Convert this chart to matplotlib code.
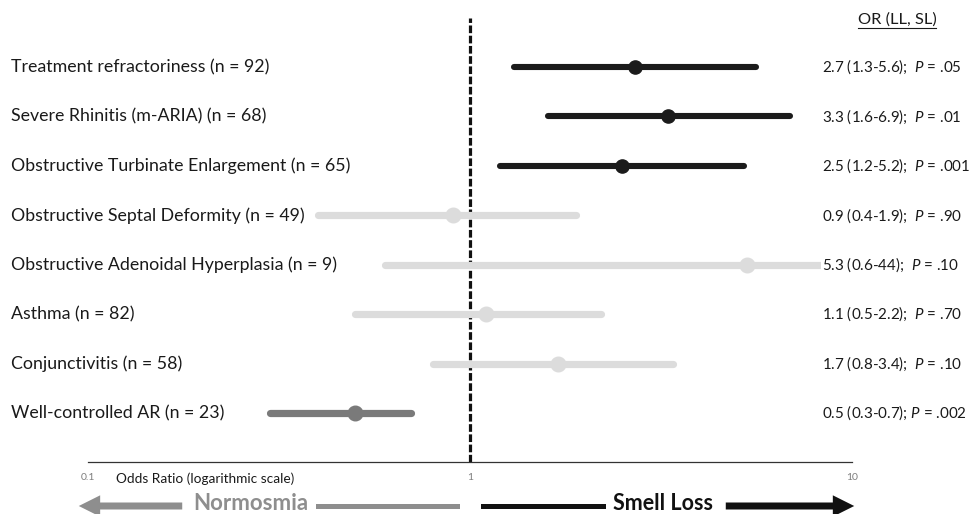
import matplotlib.pyplot as plt
import matplotlib.transforms as mtransforms
from matplotlib.lines import Line2D
from matplotlib.patches import FancyArrowPatch

plt.rcParams['font.family'] = ['Lato', 'DejaVu Sans']
plt.rcParams['mathtext.fontset'] = 'custom'
plt.rcParams['mathtext.it'] = 'Lato:italic'
plt.rcParams['mathtext.rm'] = 'Lato'

factors = ['Treatment refractoriness (n = 92)',
           'Severe Rhinitis (m-ARIA) (n = 68)',
           'Obstructive Turbinate Enlargement (n = 65)',
           'Obstructive Septal Deformity (n = 49)',
           'Obstructive Adenoidal Hyperplasia (n = 9)',
           'Asthma (n = 82)',
           'Conjunctivitis (n = 58)',
           'Well-controlled AR (n = 23)']
odds = [2.7, 3.3, 2.5, 0.9, 5.3, 1.1, 1.7, 0.5]
lower = [1.3, 1.6, 1.2, 0.4, 0.6, 0.5, 0.8, 0.3]
upper = [5.6, 6.9, 5.2, 1.9, 44, 2.2, 3.4, 0.7]
p_values = ['.05', '.01', '.001', '.90', '.10', '.70', '.10', '.002']
groups = ['risk', 'risk', 'risk', 'ns', 'ns', 'ns', 'ns', 'protective']

colors = {'risk': '#1b1b1b', 'ns': '#dcdcdc', 'protective': '#7a7a7a'}
line_w = {'risk': 4.4, 'ns': 5.2, 'protective': 5.2}
dot_ms = {'risk': 9.5, 'ns': 10.5, 'protective': 10.5}

W, H = 977, 514
fig = plt.figure(figsize=(W / 100, H / 100), dpi=100)
ax = fig.add_axes([88 / W, 52 / H, (852 - 88) / W, (496 - 52) / H])
ax.set_xscale('log')
ax.set_xlim(0.1, 10)
ax.set_ylim(7.99, -0.99)

for s in ['top', 'right', 'left']:
    ax.spines[s].set_visible(False)
ax.spines['bottom'].set_color('#333333')
ax.spines['bottom'].set_linewidth(0.9)
ax.set_yticks([])
ax.set_xticks([0.1, 1, 10], ['0.1', '1', '10'])
ax.xaxis.set_minor_locator(plt.NullLocator())
ax.tick_params(axis='x', length=0, pad=8, labelsize=7.5, labelcolor='#7d7d7d')

ax.axvline(1, color='#111111', lw=2.3, linestyle=(0, (2.4, 0.8)), zorder=1)

for i in range(len(factors)):
    g = groups[i]
    ax.plot([lower[i], upper[i]], [i, i], color=colors[g], lw=line_w[g],
            solid_capstyle='round', zorder=2)
    ax.plot(odds[i], i, 'o', ms=dot_ms[g], color=colors[g], zorder=3)

# row labels on the left and OR summaries on the right
row_tf = mtransforms.blended_transform_factory(fig.transFigure, ax.transData)
for i, name in enumerate(factors):
    ax.text(11 / W, i, name, transform=row_tf, ha='left', va='center',
            fontsize=12.8, color='#1a1a1a')
    sep = ' ' if p_values[i] == '.002' else '  '
    stat = f'{odds[i]} ({lower[i]}-{upper[i]});{sep}$\\it{{P}}$ = {p_values[i]}'
    ax.text(822 / W, i, stat, transform=row_tf, ha='left', va='center',
            fontsize=10.9, color='#1a1a1a', zorder=5,
            bbox=dict(facecolor='white', edgecolor='none', pad=1))

head = fig.text(897 / W, 1 - 20 / H, 'OR (LL, SL)', ha='center', va='center',
                fontsize=11.8, color='#1a1a1a')
fig.text(116 / W, 1 - 479 / H, 'Odds Ratio (logarithmic scale)', ha='left',
         va='center', fontsize=9.8, color='#1a1a1a')

# underline the header
fig.canvas.draw()
bb = head.get_window_extent().transformed(fig.transFigure.inverted())
fig.add_artist(Line2D([bb.x0, bb.x1], [bb.y0 - 0.002, bb.y0 - 0.002],
                      color='#1a1a1a', lw=0.8, transform=fig.transFigure))

# direction arrows under the axis
y_arr = 1 - 506 / H
gray, dark = '#8e8e8e', '#111111'
style = 'simple,head_length=1.1,head_width=1.1,tail_width=0.36'
fig.add_artist(FancyArrowPatch((185 / W, y_arr), (76 / W, y_arr),
                               transform=fig.transFigure, arrowstyle=style,
                               mutation_scale=14, color=gray, lw=0))
fig.add_artist(Line2D([318 / W, 457 / W], [y_arr, y_arr], color=gray, lw=3.6,
                      transform=fig.transFigure))
fig.text(251 / W, y_arr + 0.004, 'Normosmia', ha='center', va='center',
         fontsize=16, fontweight='bold', color=gray)

fig.add_artist(Line2D([483 / W, 603 / W], [y_arr, y_arr], color=dark, lw=3.6,
                      transform=fig.transFigure))
fig.add_artist(FancyArrowPatch((723 / W, y_arr), (857 / W, y_arr),
                               transform=fig.transFigure, arrowstyle=style,
                               mutation_scale=14, color=dark, lw=0))
fig.text(663 / W, y_arr + 0.004, 'Smell Loss', ha='center', va='center',
         fontsize=15.5, fontweight='bold', color=dark)

fig.savefig('out.png', dpi=100, facecolor='white')
